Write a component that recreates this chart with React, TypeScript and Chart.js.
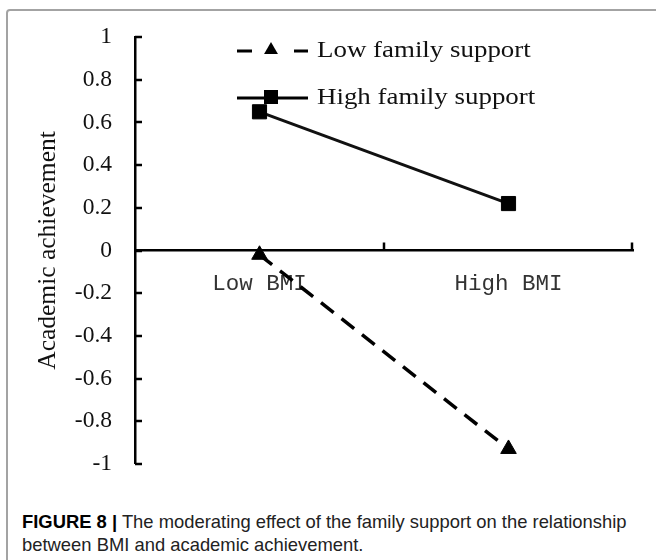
import React, { useEffect, useRef } from 'react';
import { Chart, registerables } from 'chart.js';

Chart.register(...registerables);

const categories: string[] = ['Low BMI', 'High BMI'];
const seriesNames: string[] = ['Low family support', 'High family support'];
const lowSupport: number[] = [-0.02, -0.93];
const highSupport: number[] = [0.65, 0.22];
const yMin = -1;
const yMax = 1;
const yStep = 0.2;
const yTitle = 'Academic achievement';
const captionLabel = 'FIGURE 8';
const captionLine1 = 'The moderating effect of the family support on the relationship';
const captionLine2 = 'between BMI and academic achievement.';

const SERIF = '"Liberation Serif", "Times New Roman", serif';
const MONO = '"Liberation Mono", "Courier New", monospace';

function drawMarker(ctx: CanvasRenderingContext2D, kind: string, x: number, y: number, r: number) {
  ctx.beginPath();
  if (kind === 'triangle') {
    ctx.moveTo(x, y - r);
    ctx.lineTo(x + r * 0.866, y + r * 0.5);
    ctx.lineTo(x - r * 0.866, y + r * 0.5);
    ctx.closePath();
  } else {
    ctx.rect(x - r, y - r, 2 * r, 2 * r);
  }
  ctx.fill();
}

const axisDecor = {
  id: 'axisDecor',
  afterDraw(chart: any) {
    const { ctx, chartArea, scales } = chart;
    const xs = scales.x;
    const ys = scales.y;
    ctx.save();
    ctx.strokeStyle = '#000';
    ctx.lineWidth = 2.5;
    // inward y ticks
    ys.ticks.forEach((t: any) => {
      const py = Math.round(ys.getPixelForValue(t.value));
      ctx.beginPath();
      ctx.moveTo(chartArea.left, py);
      ctx.lineTo(chartArea.left + 7, py);
      ctx.stroke();
    });
    // upward x ticks at category boundaries
    const y0 = ys.getPixelForValue(0);
    const half = (xs.getPixelForValue(1) - xs.getPixelForValue(0)) / 2;
    for (let i = 0; i < categories.length; i++) {
      const px = Math.min(xs.getPixelForValue(i) + half, chartArea.right - 1);
      ctx.beginPath();
      ctx.moveTo(px, y0);
      ctx.lineTo(px, y0 - 8);
      ctx.stroke();
    }
    // legend
    const rows = [
      { name: seriesNames[0], y: 51, dashed: true },
      { name: seriesNames[1], y: 98, dashed: false },
    ];
    const x1 = 237;
    const x2 = 308;
    const xm = 271;
    ctx.fillStyle = '#000';
    rows.forEach((row) => {
      ctx.lineWidth = 3;
      ctx.strokeStyle = '#000';
      if (row.dashed) {
        ctx.beginPath();
        ctx.moveTo(x1, row.y);
        ctx.lineTo(x1 + 15, row.y);
        ctx.moveTo(x2 - 14, row.y);
        ctx.lineTo(x2, row.y);
        ctx.stroke();
        drawMarker(ctx, 'triangle', xm, row.y - 1, 8);
      } else {
        ctx.beginPath();
        ctx.moveTo(x1, row.y);
        ctx.lineTo(x2, row.y);
        ctx.stroke();
        drawMarker(ctx, 'rect', xm, row.y - 1, 7);
      }
      ctx.save();
      ctx.translate(317, row.y);
      ctx.scale(1.17, 1);
      ctx.font = '23px ' + SERIF;
      ctx.fillStyle = '#111';
      ctx.textBaseline = 'middle';
      ctx.textAlign = 'left';
      ctx.fillText(row.name, 0, 0);
      ctx.restore();
    });
    ctx.restore();
  },
};

export default function App() {
  const ref = useRef<HTMLCanvasElement>(null);

  useEffect(() => {
    if (!ref.current) return;
    const chart = new Chart(ref.current, {
      type: 'line',
      data: {
        labels: categories,
        datasets: [
          {
            label: seriesNames[0],
            data: lowSupport,
            borderColor: '#000',
            backgroundColor: '#000',
            borderWidth: 3.5,
            borderDash: [16, 10],
            pointStyle: 'triangle',
            pointRadius: 9,
            pointBorderWidth: 1,
            pointBackgroundColor: '#000',
            pointBorderColor: '#000',
          },
          {
            label: seriesNames[1],
            data: highSupport,
            borderColor: '#111',
            backgroundColor: '#000',
            borderWidth: 3,
            pointStyle: 'rect',
            pointRadius: 10,
            pointBorderWidth: 1,
            pointBackgroundColor: '#000',
            pointBorderColor: '#000',
          },
        ],
      },
      options: {
        responsive: false,
        animation: false,
        layout: { padding: { top: 37, right: 23, bottom: 17, left: 0 } },
        plugins: {
          legend: { display: false },
          tooltip: { enabled: false },
        },
        scales: {
          x: {
            type: 'category',
            position: { y: 0 } as any,
            offset: true,
            grid: { display: false, drawTicks: false },
            border: { display: true, color: '#000', width: 2.5 },
            ticks: {
              font: { family: MONO, size: 22.5 },
              color: '#333',
              padding: 20,
            },
          },
          y: {
            min: yMin,
            max: yMax,
            afterFit: (s: any) => {
              s.width = 135;
            },
            grid: { display: false, drawTicks: false },
            border: { display: true, color: '#000', width: 2.5 },
            ticks: {
              stepSize: yStep,
              padding: 23,
              font: { family: SERIF, size: 23.5 },
              color: '#111',
              callback: (v: any) => String(Math.round(Number(v) * 10) / 10),
            },
            title: {
              display: true,
              text: yTitle,
              font: { family: SERIF, size: 25.5 },
              color: '#111',
              padding: { top: 33, bottom: 0 },
            },
          },
        },
      },
      plugins: [axisDecor],
    });
    return () => chart.destroy();
  }, []);

  return (
    <div
      style={{
        position: 'fixed',
        left: 0,
        top: 0,
        width: 656,
        height: 560,
        background: '#fff',
        overflow: 'hidden',
      }}
    >
      <div
        style={{
          position: 'absolute',
          left: 6,
          top: 9,
          width: 720,
          height: 620,
          border: '2px solid #a3a3a3',
          borderRadius: 4,
        }}
      />
      <canvas
        ref={ref}
        width={656}
        height={501}
        style={{ position: 'absolute', left: 0, top: 0, width: 656, height: 501 }}
      />
      <div
        style={{
          position: 'absolute',
          left: 22,
          top: 510,
          fontFamily: '"Liberation Sans", Arial, sans-serif',
          fontSize: 18.4,
          lineHeight: '23px',
          color: '#222',
          whiteSpace: 'nowrap',
        }}
      >
        <b style={{ color: '#000' }}>{captionLabel}</b> <b style={{ color: '#000' }}>|</b> {captionLine1}
        <br />
        {captionLine2}
      </div>
    </div>
  );
}
